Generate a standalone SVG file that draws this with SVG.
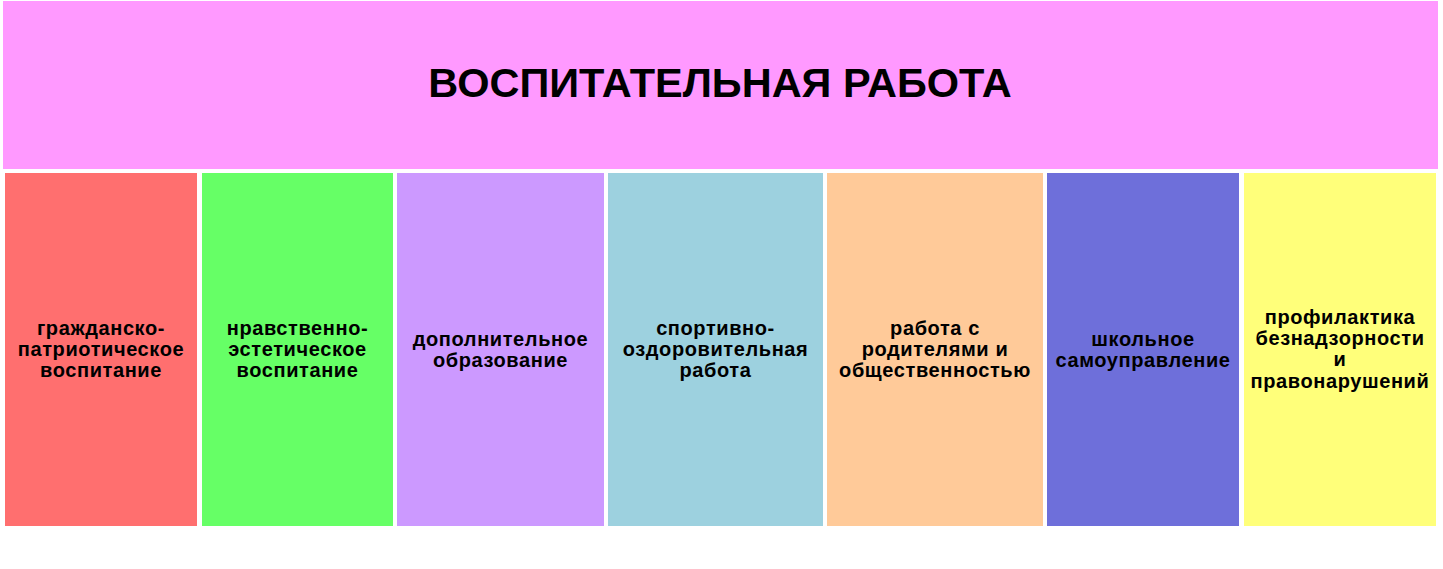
<svg xmlns="http://www.w3.org/2000/svg" width="1443" height="569" viewBox="0 0 1443 569">
<style>
text { font-family: "Liberation Sans", Arial, sans-serif; font-weight: bold; fill: #000; text-anchor: middle; }
.title { font-size: 41.5px; }
.lbl { font-size: 20px; letter-spacing: 0.6px; }
</style>
<rect x="0" y="0" width="1443" height="569" fill="#FFFFFF"/>
<g id="header">
<rect x="3" y="1" width="1435" height="168" fill="#FF99FF"/>
<text class="title" x="720" y="97">ВОСПИТАТЕЛЬНАЯ РАБОТА</text>
</g>
<g id="connectors"></g>
<g id="col1">
<rect x="5" y="173" width="192" height="353" fill="#FF6F6F"/>
<text class="lbl" x="101" y="335">гражданско-</text>
<text class="lbl" x="101" y="356">патриотическое</text>
<text class="lbl" x="101" y="377">воспитание</text>
</g>
<g id="col2">
<rect x="202" y="173" width="191" height="353" fill="#66FF66"/>
<text class="lbl" x="297.5" y="335">нравственно-</text>
<text class="lbl" x="297.5" y="356">эстетическое</text>
<text class="lbl" x="297.5" y="377">воспитание</text>
</g>
<g id="col3">
<rect x="397" y="173" width="207" height="353" fill="#CC99FF"/>
<text class="lbl" x="500.5" y="345.5">дополнительное</text>
<text class="lbl" x="500.5" y="366.5">образование</text>
</g>
<g id="col4">
<rect x="608" y="173" width="215" height="353" fill="#9DD1DF"/>
<text class="lbl" x="715.5" y="335">спортивно-</text>
<text class="lbl" x="715.5" y="356">оздоровительная</text>
<text class="lbl" x="715.5" y="377">работа</text>
</g>
<g id="col5">
<rect x="827" y="173" width="216" height="353" fill="#FFCA99"/>
<text class="lbl" x="935" y="335">работа с</text>
<text class="lbl" x="935" y="356">родителями и</text>
<text class="lbl" x="935" y="377">общественностью</text>
</g>
<g id="col6">
<rect x="1047" y="173" width="192" height="353" fill="#6E6FDA"/>
<text class="lbl" x="1143" y="345.5">школьное</text>
<text class="lbl" x="1143" y="366.5">самоуправление</text>
</g>
<g id="col7">
<rect x="1244" y="173" width="192" height="353" fill="#FFFF7A"/>
<text class="lbl" x="1340" y="323.5">профилактика</text>
<text class="lbl" x="1340" y="345">безнадзорности</text>
<text class="lbl" x="1340" y="366">и</text>
<text class="lbl" x="1340" y="387.5">правонарушений</text>
</g>
</svg>
